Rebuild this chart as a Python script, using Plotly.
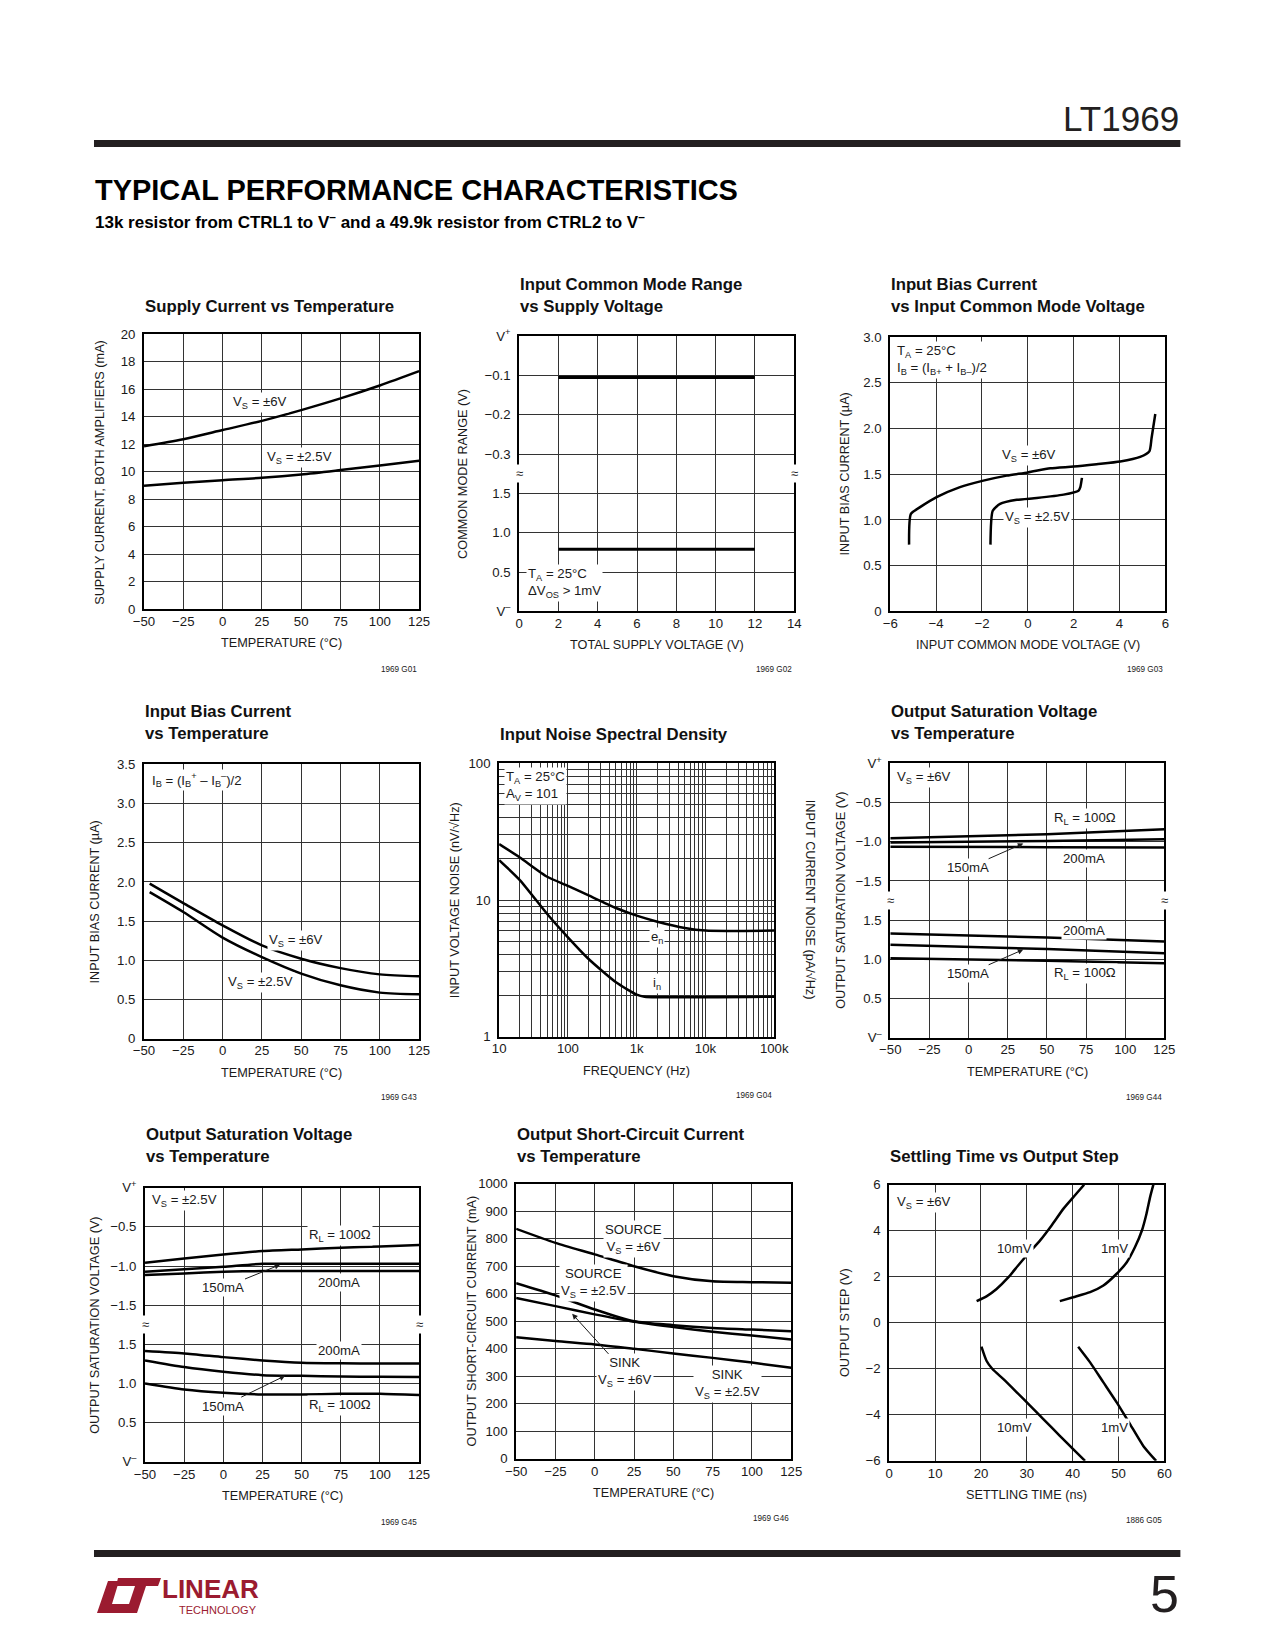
import plotly.graph_objects as go

W, H = 1275, 1650          # page (window) size in px
OFF = 8                    # default body margin of the html page
FW, FH = W - 2 * OFF, H - 2 * OFF   # figure size so that page = window exactly
# measured mapping of page px -> photographed px (compensated below)
SX, BX = 0.979, 11.2
SY, BY = 0.989, 9.1
FS = 1.0 / 0.984           # font compensation for that mapping

FONT = "Liberation Sans, Arial, Helvetica, sans-serif"
INK = "#1a1a1a"
GRID = "#333333"
LOGO_RED = "#9b1b30"
TICK = 13 * FS
LAB = 13 * FS
AXT = 12.5 * FS

# ---------------- data ----------------
temp_ticks = [-50, -25, 0, 25, 50, 75, 100, 125]
temp_ticktext = ["−50", "−25", "0", "25", "50", "75", "100", "125"]

# 1 Supply current vs temperature (mA)
sc_temp = [-50, -25, 0, 25, 50, 75, 100, 125]
sc_vs6 = [11.86, 12.37, 13.03, 13.7, 14.48, 15.33, 16.27, 17.31]
sc_vs25 = [8.98, 9.2, 9.39, 9.56, 9.8, 10.12, 10.46, 10.8]

# 2 Input common mode range vs supply voltage
cmr_vsupply = [2, 12]
cmr_top = [-0.105, -0.105]      # V referred to V+
cmr_bot = [0.79, 0.79]          # V referred to V-

# 3 Input bias current vs input common mode voltage (uA)
ibv6_x = [-5.18, -5.1, -4.7, -3.98, -2.96, -1.94, -0.92, 0.01, 0.98, 2.0, 3.0, 4.03, 4.9, 5.3, 5.4, 5.56]
ibv6_y = [0.73, 1.066, 1.14, 1.25, 1.36, 1.43, 1.485, 1.52, 1.566, 1.584, 1.61, 1.64, 1.69, 1.75, 1.9, 2.16]
ibv25_x = [-1.63, -1.53, -1.21, -0.48, 0.39, 1.56, 2.21, 2.29, 2.36]
ibv25_y = [0.73, 1.10, 1.175, 1.22, 1.24, 1.277, 1.32, 1.36, 1.46]

# 4 Input bias current vs temperature (uA)
ibt_temp = [-46.4, -25, 0, 25, 50, 75, 100, 125]
ibt_vs6 = [1.978, 1.73, 1.446, 1.19, 1.02, 0.90, 0.82, 0.795]
ibt_vs25 = [1.87, 1.616, 1.289, 1.04, 0.83, 0.68, 0.587, 0.566]

# 5 Input noise spectral density
en_freq = [10, 20, 50, 100, 200, 500, 1000, 2000, 5000, 10000, 100000]
en_val = [25.7, 20.5, 14.8, 12.7, 10.8, 8.74, 7.68, 6.94, 6.24, 5.97, 5.97]
in_freq = [10, 20, 50, 100, 200, 500, 1000, 1300, 100000]
in_val = [19.6, 14.0, 7.9, 5.33, 3.7, 2.5, 2.03, 1.96, 1.96]

# 6 Output saturation voltage vs temperature, Vs = +/-6V
sat6_temp = [-50, 50, 125]
sat6_top_rl = [-0.954, -0.903, -0.839]
sat6_top_150 = [-1.009, -0.99, -0.967]
sat6_top_200 = [-1.065, -1.069, -1.073]
sat6_bot_200 = [1.329, 1.278, 1.227]
sat6_bot_150 = [1.184, 1.13, 1.078]
sat6_bot_rl = [1.014, 0.98, 0.95]

# 7 Output saturation voltage vs temperature, Vs = +/-2.5V
sat25_temp = [-50, -25, 0, 25, 50, 75, 100, 125]
sat25_top_rl = [-0.958, -0.903, -0.852, -0.809, -0.788, -0.767, -0.75, -0.733]
sat25_top_150 = [-1.073, -1.04, -1.009, -0.971, -0.971, -0.971, -0.971, -0.971]
sat25_top_200 = [-1.116, -1.095, -1.073, -1.065, -1.065, -1.065, -1.065, -1.065]
sat25_bot_200 = [1.414, 1.384, 1.337, 1.295, 1.265, 1.258, 1.256, 1.256]
sat25_bot_150 = [1.295, 1.21, 1.15, 1.107, 1.099, 1.09, 1.085, 1.082]
sat25_bot_rl = [1.0, 0.924, 0.882, 0.86, 0.86, 0.869, 0.869, 0.852]

# 8 Output short-circuit current vs temperature (mA)
osc_temp = [-50, -25, 0, 25, 50, 75, 100, 125]
osc_src6 = [836, 785, 743, 700, 664, 645, 642, 640]
osc_src25 = [638, 594, 543, 500, 486, 476, 470, 464]
osc_snk6 = [585, 555, 525, 498, 479, 462, 448, 434]
osc_snk25 = [442, 428, 416, 400, 383, 367, 350, 331]

# 9 Settling time vs output step
st10p_t = [19.05, 21.2, 23.4, 26, 28.1, 30.3, 32.9, 35.4, 38, 40.5, 42.5]
st10p_v = [0.94, 1.15, 1.47, 1.98, 2.49, 3.0, 3.58, 4.23, 4.96, 5.54, 6.0]
st1p_t = [37.2, 40.1, 43.8, 46.7, 49.6, 51.8, 53.6, 55.1, 56.1, 56.9, 57.6]
st1p_v = [0.94, 1.11, 1.33, 1.62, 2.13, 2.63, 3.29, 4.01, 4.74, 5.47, 6.0]
st10n_t = [20.1, 21.2, 22.5, 24.9, 27.8, 30.7, 33.6, 37.2, 40.1, 42.7]
st10n_v = [-1.04, -1.65, -2.01, -2.45, -3.02, -3.6, -4.19, -4.91, -5.49, -6.0]
st1n_t = [41.2, 43.8, 46.7, 49.6, 52.5, 55.4, 58.2]
st1n_v = [-1.04, -1.72, -2.59, -3.46, -4.4, -5.35, -6.0]


# broken-axis helpers: upper half referred to V+, lower half referred to V-
def brk_top(vals, step):
    return [7 + v / step for v in vals]


def brk_bot(vals, step):
    return [v / step for v in vals]


# target px -> paper fraction
def px(x):
    return ((x - BX) / SX - OFF) / FW


def py(y):
    return 1 - ((y - BY) / SY - OFF) / FH


# ---------------- figure ----------------
fig = go.Figure()
layout_axes = {}
annotations = []
shapes = []


def xy(n):
    return ("x", "y") if n == 1 else (f"x{n}", f"y{n}")


def axes(n, box, xrange, yrange, xt, xtt, yt, ytt, xtype="linear", ytype="linear",
         xminor=None, yminor=None):
    l, t, r, b = box
    xk = "xaxis" if n == 1 else f"xaxis{n}"
    yk = "yaxis" if n == 1 else f"yaxis{n}"
    xa, ya = xy(n)
    common = dict(showgrid=True, gridcolor=GRID, gridwidth=1, zeroline=False,
                  showline=True, mirror=True, linecolor="black", linewidth=2,
                  ticks="", tickfont=dict(family=FONT, size=TICK, color=INK),
                  tickmode="array", fixedrange=True)
    xd = dict(common, domain=[px(l), px(r)], range=xrange, tickvals=xt, ticktext=xtt,
              anchor=ya, type=xtype, ticklabelstandoff=-1)
    yd = dict(common, domain=[py(b), py(t)], range=yrange, tickvals=yt, ticktext=ytt,
              anchor=xa, type=ytype, ticklabelstandoff=4)
    if xminor:
        xd["minor"] = dict(tickmode="array", tickvals=xminor, showgrid=True,
                           gridcolor=GRID, gridwidth=1, ticks="")
    if yminor:
        yd["minor"] = dict(tickmode="array", tickvals=yminor, showgrid=True,
                           gridcolor=GRID, gridwidth=1, ticks="")
    layout_axes[xk] = xd
    layout_axes[yk] = yd


def line(n, x, y, smooth=0.8, width=2.5):
    xa, ya = xy(n)
    fig.add_trace(go.Scatter(x=x, y=y, mode="lines", xaxis=xa, yaxis=ya,
                             line=dict(color="black", width=width, shape="spline" if smooth else "linear",
                                       smoothing=smooth if smooth else None),
                             showlegend=False, hoverinfo="skip"))


def txt(x, y, text, size=LAB, xanchor="center", yanchor="middle", bold=False,
        color=INK, bg=None, angle=0, align="left", family=FONT):
    a = dict(x=px(x), y=py(y), xref="paper", yref="paper",
             text=f"<b>{text}</b>" if bold else text, showarrow=False,
             xanchor=xanchor, yanchor=yanchor, textangle=angle, align=align,
             font=dict(family=family, size=size, color=color))
    if bg:
        a.update(bgcolor=bg, borderpad=1)
    annotations.append(a)


def arrow_label(x, y, tipx, tipy, text, size=LAB):
    annotations.append(dict(x=px(tipx), y=py(tipy), xref="paper", yref="paper",
                            ax=(x - tipx) / SX, ay=(y - tipy) / SY, axref="pixel", ayref="pixel",
                            text=text, showarrow=True, arrowhead=2, arrowsize=1.1,
                            arrowwidth=1, arrowcolor=INK, bgcolor="white", borderpad=1,
                            font=dict(family=FONT, size=size, color=INK)))


def rect(x0, y0, x1, y1, color):
    shapes.append(dict(type="rect", xref="paper", yref="paper", x0=px(x0), x1=px(x1),
                       y0=py(y1), y1=py(y0), fillcolor=color, line=dict(width=0)))


def poly(pts, color):
    p = "M " + " L ".join(f"{px(a):.5f},{py(b):.5f}" for a, b in pts) + " Z"
    shapes.append(dict(type="path", xref="paper", yref="paper", path=p,
                       fillcolor=color, line=dict(width=0)))


def frame_text(box, title, title_y, xtitle, ytitle, ytitle_x, code, code_y):
    l, t, r, b = box
    txt(l - 1, title_y, title, size=16.5 * FS, xanchor="left", bold=True, color="#111")
    txt((l + r) / 2, b + 34, xtitle, size=AXT)
    txt(ytitle_x, (t + b) / 2, ytitle, size=AXT, angle=-90)
    txt(r, code_y, code, size=8 * FS, xanchor="right")


# ---- chart boxes (left, top, right, bottom) in target px ----
B1 = (144, 334, 419, 609)
B2 = (519, 336, 794, 611)
B3 = (890, 337, 1165, 611)
B4 = (144, 764, 419, 1038)
B5 = (499, 763, 774, 1036)
B6 = (890, 763, 1164, 1037)
B7 = (145, 1187, 419, 1461)
B8 = (516, 1183, 791, 1458)
B9 = (889, 1184, 1164, 1460)

# 1
axes(1, B1, [-50, 125], [0, 20], temp_ticks, temp_ticktext,
     list(range(0, 21, 2)), [str(v) for v in range(0, 21, 2)])
line(1, sc_temp, sc_vs6)
line(1, sc_temp, sc_vs25)
frame_text(B1, "Supply Current vs Temperature", 306, "TEMPERATURE (°C)",
           "SUPPLY CURRENT, BOTH AMPLIFIERS (mA)", 100, "1969 G01", 669)
txt(260, 402, "V<sub>S</sub> = ±6V", bg="white")
txt(299, 457, "V<sub>S</sub> = ±2.5V", bg="white")

# 2
brk_labels = ["V<sup>–</sup>", "0.5", "1.0", "1.5"]
axes(2, B2, [0, 14], [0, 7], list(range(0, 15, 2)), [str(v) for v in range(0, 15, 2)],
     list(range(0, 8)), brk_labels + ["−0.3", "−0.2", "−0.1", "V<sup>+</sup>"])
line(2, cmr_vsupply, brk_top(cmr_top, 0.1), smooth=0, width=3.2)
line(2, cmr_vsupply, brk_bot(cmr_bot, 0.5), smooth=0, width=3.2)
frame_text(B2, "Input Common Mode Range<br>vs Supply Voltage", 295,
           "TOTAL SUPPLY VOLTAGE (V)", "COMMON MODE RANGE (V)", 463, "1969 G02", 669)
txt(526, 583, "T<sub>A</sub> = 25°C<br>ΔV<sub>OS</sub> > 1mV", xanchor="left", bg="white")
for bx in (B2[0], B2[2]):
    txt(bx, 473, "≈", size=13, bg="white")

# 3
axes(3, B3, [-6, 6], [0, 3], list(range(-6, 7, 2)), ["−6", "−4", "−2", "0", "2", "4", "6"],
     [0, 0.5, 1, 1.5, 2, 2.5, 3], ["0", "0.5", "1.0", "1.5", "2.0", "2.5", "3.0"])
line(3, ibv6_x, ibv6_y, smooth=0.6)
line(3, ibv25_x, ibv25_y, smooth=0.6)
frame_text(B3, "Input Bias Current<br>vs Input Common Mode Voltage", 295,
           "INPUT COMMON MODE VOLTAGE (V)", "INPUT BIAS CURRENT (µA)", 845, "1969 G03", 669)
txt(895, 341, "T<sub>A</sub> = 25°C<br>I<sub>B</sub> = (I<sub>B+</sub> + I<sub>B–</sub>)/2",
    xanchor="left", yanchor="top", bg="white")
txt(1029, 455, "V<sub>S</sub> = ±6V", bg="white")
txt(1037, 517, "V<sub>S</sub> = ±2.5V", bg="white")

# 4
axes(4, B4, [-50, 125], [0, 3.5], temp_ticks, temp_ticktext,
     [0, 0.5, 1, 1.5, 2, 2.5, 3, 3.5], ["0", "0.5", "1.0", "1.5", "2.0", "2.5", "3.0", "3.5"])
line(4, ibt_temp, ibt_vs6)
line(4, ibt_temp, ibt_vs25)
frame_text(B4, "Input Bias Current<br>vs Temperature", 722, "TEMPERATURE (°C)",
           "INPUT BIAS CURRENT (µA)", 95, "1969 G43", 1097)
txt(150, 780, "I<sub>B</sub> = (I<sub>B</sub><sup>+</sup> – I<sub>B</sub><sup>–</sup>)/2",
    xanchor="left", bg="white")
txt(296, 940, "V<sub>S</sub> = ±6V", bg="white")
txt(260, 982, "V<sub>S</sub> = ±2.5V", bg="white")

# 5
xminor5 = [m * 10 ** d for d in range(1, 5) for m in range(2, 10)]
yminor5 = [m * 10 ** d for d in range(0, 2) for m in range(2, 10)]
axes(5, B5, [1, 5], [0, 2], [10, 100, 1000, 10000, 100000], ["10", "100", "1k", "10k", "100k"],
     [1, 10, 100], ["1", "10", "100"], xtype="log", ytype="log", xminor=xminor5, yminor=yminor5)
layout_axes["yaxis10"] = dict(overlaying="y5", side="right", type="log", range=[0, 2],
                              tickmode="array", tickvals=[1, 10, 100], ticktext=["1", "10", "100"],
                              showgrid=False, zeroline=False, showline=False, ticks="",
                              anchor="x5", ticklabelstandoff=4, fixedrange=True,
                              tickfont=dict(family=FONT, size=TICK, color=INK))
line(5, en_freq, en_val, smooth=0.6)
line(5, in_freq, in_val, smooth=0.6)
frame_text(B5, "Input Noise Spectral Density", 734, "FREQUENCY (Hz)",
           "INPUT VOLTAGE NOISE (nV/√Hz)", 455, "1969 G04", 1095)
txt(810, (B5[1] + B5[3]) / 2, "INPUT CURRENT NOISE (pA/√Hz)", size=AXT, angle=90)
txt(504, 786, "T<sub>A</sub> = 25°C<br>A<sub>V</sub> = 101", xanchor="left", bg="white")
txt(657, 937, "e<sub>n</sub>", bg="white")
txt(657, 983, "i<sub>n</sub>", bg="white")

# 6
sat_ticktext = brk_labels + ["−1.5", "−1.0", "−0.5", "V<sup>+</sup>"]
axes(6, B6, [-50, 125], [0, 7], temp_ticks, temp_ticktext, list(range(0, 8)), sat_ticktext)
for series in (sat6_top_rl, sat6_top_150, sat6_top_200):
    line(6, sat6_temp, brk_top(series, 0.5), smooth=0.5)
for series in (sat6_bot_200, sat6_bot_150, sat6_bot_rl):
    line(6, sat6_temp, brk_bot(series, 0.5), smooth=0.5)
frame_text(B6, "Output Saturation Voltage<br>vs Temperature", 722, "TEMPERATURE (°C)",
           "OUTPUT SATURATION VOLTAGE (V)", 840, "1969 G44", 1097)
txt(895, 777, "V<sub>S</sub> = ±6V", xanchor="left", bg="white")
txt(1085, 818, "R<sub>L</sub> = 100Ω", bg="white")
txt(1084, 858, "200mA", bg="white")
arrow_label(969, 867, 1023, 843, "150mA")
txt(1084, 930, "200mA", bg="white")
arrow_label(969, 973, 1023, 949, "150mA")
txt(1085, 973, "R<sub>L</sub> = 100Ω", bg="white")
for bx in (B6[0], B6[2]):
    txt(bx, 900, "≈", size=13, bg="white")

# 7
axes(7, B7, [-50, 125], [0, 7], temp_ticks, temp_ticktext, list(range(0, 8)), sat_ticktext)
for series in (sat25_top_rl, sat25_top_150, sat25_top_200):
    line(7, sat25_temp, brk_top(series, 0.5), smooth=0.6)
for series in (sat25_bot_200, sat25_bot_150, sat25_bot_rl):
    line(7, sat25_temp, brk_bot(series, 0.5), smooth=0.6)
frame_text(B7, "Output Saturation Voltage<br>vs Temperature", 1145, "TEMPERATURE (°C)",
           "OUTPUT SATURATION VOLTAGE (V)", 95, "1969 G45", 1522)
txt(150, 1200, "V<sub>S</sub> = ±2.5V", xanchor="left", bg="white")
txt(340, 1235, "R<sub>L</sub> = 100Ω", bg="white")
txt(339, 1282, "200mA", bg="white")
arrow_label(224, 1287, 280, 1264, "150mA")
txt(339, 1350, "200mA", bg="white")
arrow_label(224, 1405, 285, 1375, "150mA")
txt(340, 1405, "R<sub>L</sub> = 100Ω", bg="white")
for bx in (B7[0], B7[2]):
    txt(bx, 1324, "≈", size=13, bg="white")

# 8
axes(8, B8, [-50, 125], [0, 1000], temp_ticks, temp_ticktext,
     list(range(0, 1001, 100)), [str(v) for v in range(0, 1001, 100)])
for series in (osc_src6, osc_src25, osc_snk6, osc_snk25):
    line(8, osc_temp, series, smooth=0.7)
frame_text(B8, "Output Short-Circuit Current<br>vs Temperature", 1145, "TEMPERATURE (°C)",
           "OUTPUT SHORT-CIRCUIT CURRENT (mA)", 472, "1969 G46", 1518)
txt(633, 1238, "SOURCE<br>V<sub>S</sub> = ±6V", align="center", bg="white")
txt(593, 1282, "SOURCE<br>V<sub>S</sub> = ±2.5V", align="center", bg="white")
arrow_label(624, 1371, 572, 1313, "SINK<br>V<sub>S</sub> = ±6V")
txt(727, 1383, "SINK<br>V<sub>S</sub> = ±2.5V", align="center", bg="white")

# 9
axes(9, B9, [0, 60], [-6, 6], list(range(0, 61, 10)), [str(v) for v in range(0, 61, 10)],
     list(range(-6, 7, 2)), ["−6", "−4", "−2", "0", "2", "4", "6"])
line(9, st10p_t, st10p_v, smooth=0.6)
line(9, st1p_t, st1p_v, smooth=0.6)
line(9, st10n_t, st10n_v, smooth=0.6)
line(9, st1n_t, st1n_v, smooth=0.6)
frame_text(B9, "Settling Time vs Output Step", 1156, "SETTLING TIME (ns)",
           "OUTPUT STEP (V)", 845, "1886 G05", 1520)
txt(895, 1202, "V<sub>S</sub> = ±6V", xanchor="left", bg="white")
txt(1014, 1248, "10mV", bg="white")
txt(1114, 1248, "1mV", bg="white")
txt(1014, 1427, "10mV", bg="white")
txt(1114, 1427, "1mV", bg="white")

# ---- page header / footer ----
txt(1181, 118, "LT1969", size=35, xanchor="right", color="#231f20")
rect(94, 140, 1180, 147, "#231f20")
txt(93, 190, "TYPICAL PERFORMANCE CHARACTERISTICS", size=28.5 * FS, xanchor="left", bold=True, color="#000")
txt(93, 221, "13k resistor from CTRL1 to V<sup>–</sup> and a 49.9k resistor from CTRL2 to V<sup>–</sup>",
    size=17, xanchor="left", bold=True, color="#000")
rect(94, 1549, 1180, 1556, "#231f20")
# logo mark
poly([(97, 1612), (108, 1580), (119, 1580), (112, 1603), (131, 1603), (128, 1612)], LOGO_RED)
poly([(118, 1577), (161, 1577), (158, 1585), (146, 1585), (137, 1612), (126, 1612),
      (135, 1585), (116, 1585)], LOGO_RED)
txt(160, 1588, "LINEAR", size=26, xanchor="left", bold=True, color=LOGO_RED)
txt(177, 1609, "TECHNOLOGY", size=11, xanchor="left", color=LOGO_RED)
txt(1181, 1593, "5", size=52, xanchor="right", color="#231f20")

fig.update_layout(
    width=FW, height=FH, autosize=False,
    margin=dict(l=0, r=0, t=0, b=0, pad=0),
    paper_bgcolor="white", plot_bgcolor="white",
    showlegend=False, annotations=annotations, shapes=shapes,
    font=dict(family=FONT, size=13, color=INK),
    **layout_axes,
)

fig.write_html("out.html", config={"displayModeBar": False})
